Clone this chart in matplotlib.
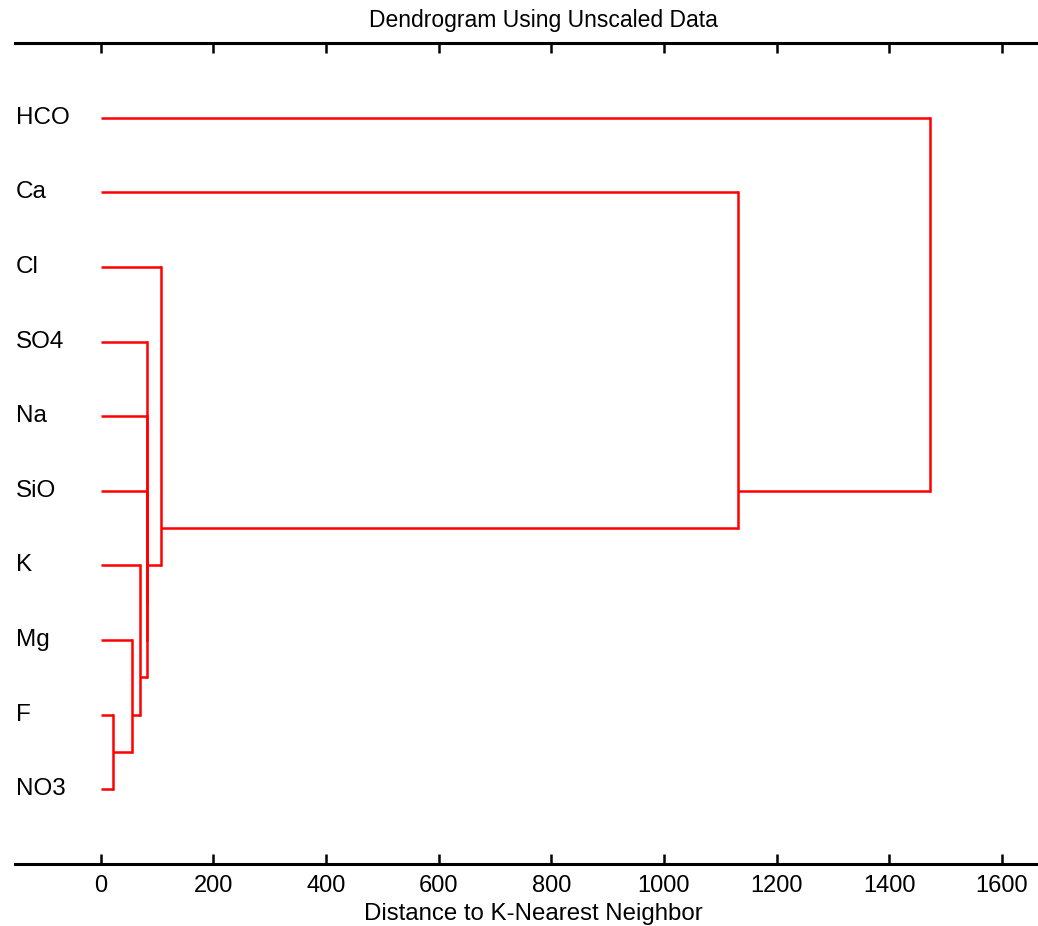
import numpy as np
import matplotlib
matplotlib.use('Agg')
import matplotlib.pyplot as plt
import matplotlib.transforms as mtransforms

plt.rcParams['font.family'] = ['Liberation Sans', 'DejaVu Sans']

# leaves, top to bottom
leaves = ['HCO', 'Ca', 'Cl', 'SO4', 'Na', 'SiO', 'K', 'Mg', 'F', 'NO3']

# merges: (left child, right child, distance); children are leaf names or merge ids
merge_a = ['F', 'NO3', 'Mg', 'm0', 'K', 'm1', 'SiO', 'm2', 'Na', 'm3', 'SO4', 'm4',
           'Cl', 'm5', 'Ca', 'm6', 'HCO', 'm7']
merge_left = merge_a[0::2]
merge_right = merge_a[1::2]
merge_height = [22, 56, 70, 81.5, 81.5, 81.5, 108, 1132, 1472]

xticks = [0, 200, 400, 600, 800, 1000, 1200, 1400, 1600]

fig = plt.figure(figsize=(10.38, 9.26), dpi=100)
ax = fig.add_axes([15 / 1038, 1 - 864 / 926, 1 - 15 / 1038, (864 - 43) / 926])

# position and height of each node: y is the mean index of its leaves
members = {name: [i] for i, name in enumerate(leaves)}
height = {name: 0.0 for name in leaves}
for k, (a, b, h) in enumerate(zip(merge_left, merge_right, merge_height)):
    mid = 'm%d' % k
    members[mid] = members[a] + members[b]
    height[mid] = h
    for child in (a, b):
        yc = np.mean(members[child])
        ax.plot([height[child], h], [yc, yc], color='red', lw=1.8, solid_capstyle='butt')
    ya, yb = np.mean(members[a]), np.mean(members[b])
    ax.plot([h, h], [ya, yb], color='red', lw=1.8, solid_capstyle='projecting')

ax.set_xlim(-152, 1664)
ax.set_ylim(len(leaves), -1)

for side in ['left', 'right']:
    ax.spines[side].set_visible(False)
for side in ['top', 'bottom']:
    ax.spines[side].set_linewidth(2.2)

ax.set_xticks(xticks)
ax.set_yticks([])
ax.tick_params(axis='x', direction='in', top=True, bottom=True, length=7.5,
               width=1.8, pad=8, labelsize=17)

# leaf names sit at the left edge of the axes
trans = mtransforms.blended_transform_factory(ax.transAxes, ax.transData)
for i, name in enumerate(leaves):
    ax.text(0.001, i, name, transform=trans, ha='left', va='center', fontsize=17.5)

fig.text(543 / 1038, 1 - 20 / 926, 'Dendrogram Using Unscaled Data',
         ha='center', va='center', fontsize=16.5)
fig.text(533 / 1038, 1 - 914 / 926, 'Distance to K-Nearest Neighbor',
         ha='center', va='center', fontsize=17.3)

fig.savefig('out.png', dpi=100)
